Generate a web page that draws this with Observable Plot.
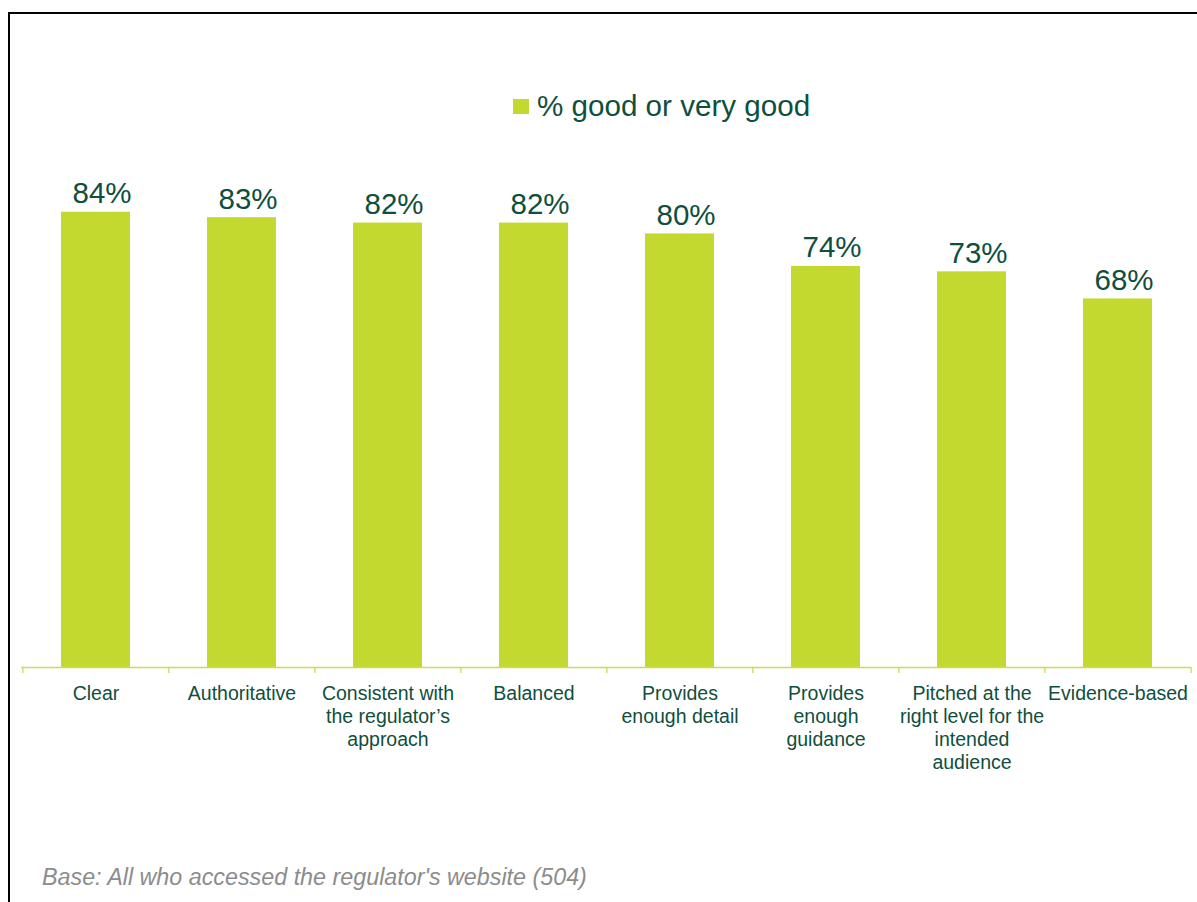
<!DOCTYPE html>
<html>
<head>
<meta charset="utf-8">
<script src="https://cdn.jsdelivr.net/npm/d3@7"></script>
<script src="https://cdn.jsdelivr.net/npm/@observablehq/plot@0.6"></script>
<style>
  html, body { margin: 0; padding: 0; background: #fff; overflow: hidden; }
  #wrap { position: relative; width: 1197px; height: 902px; overflow: hidden; font-family: "Liberation Sans", Arial, sans-serif; }
  #frame { position: absolute; left: 8px; top: 12px; width: 1300px; height: 1000px; border-left: 2px solid #000; border-top: 2px solid #000; }
  #legend { position: absolute; left: 513px; top: 91px; height: 29px; }
  #legend .sw { position: absolute; left: 0; top: 8px; width: 16px; height: 15px; background: #c4d92f; }
  #legend .lt { position: absolute; left: 24px; top: 0; font-size: 29.6px; line-height: 29.6px; color: #0f4f3d; white-space: nowrap; }
  #plot { position: absolute; left: 0; top: 0; }
  #caption { position: absolute; left: 42px; top: 866px; font-size: 23.3px; line-height: 22px; font-style: italic; color: #8c8c8c; white-space: nowrap; }
</style>
</head>
<body>
<div id="wrap">
  <div id="frame"></div>
  <div id="plot"></div>
  <div id="legend"><div class="sw"></div><div class="lt">% good or very good</div></div>
  <div id="caption">Base: All who accessed the regulator's website (504)</div>
</div>
<script>
const categories = ["Clear", "Authoritative", "Consistent with the regulator’s approach", "Balanced", "Provides enough detail", "Provides enough guidance", "Pitched at the right level for the intended audience", "Evidence-based"];
const tickLabels = ["Clear", "Authoritative", "Consistent with\nthe regulator’s\napproach", "Balanced", "Provides\nenough detail", "Provides\nenough\nguidance", "Pitched at the\nright level for the\nintended\naudience", "Evidence-based"];
const values = [84, 83, 82, 82, 80, 74, 73, 68];

const data = categories.map((c, i) => ({cat: c, value: values[i], label: tickLabels[i]}));

const W = 1197, H = 902, ML = 21, MR = 6, MT = 125, MB = 235;
const step = (W - ML - MR) / categories.length;
const barColor = "#c4d92f";
const axisColor = "#c9dc56";
const textColor = "#0f4f3d";

const chart = Plot.plot({
  width: W,
  height: H,
  marginLeft: ML,
  marginRight: MR,
  marginTop: MT,
  marginBottom: MB,
  style: {fontFamily: "'Liberation Sans', Arial, sans-serif", background: "transparent"},
  x: {domain: categories, paddingInner: 0.528, paddingOuter: 0.264, axis: null},
  y: {domain: [0, 100], axis: null},
  marks: [
    Plot.barY(data, {x: "cat", y: "value", fill: barColor}),
    Plot.ruleY([0], {stroke: axisColor, strokeWidth: 1.3}),
    Plot.ruleX(categories, {x: d => d, y1: 0, y2: 0, insetBottom: -6, dx: -step / 2, stroke: axisColor, strokeWidth: 1.3}),
    Plot.ruleX([categories[categories.length - 1]], {x: d => d, y1: 0, y2: 0, insetBottom: -6, dx: step / 2, stroke: axisColor, strokeWidth: 1.3}),
    Plot.text(data, {x: "cat", y: "value", text: d => d.value + "%", lineAnchor: "bottom", dy: -9, dx: 6, fontSize: 29.5, fill: textColor}),
    Plot.text(data, {x: "cat", y: 0, text: "label", lineAnchor: "top", dy: 16, fontSize: 19.5, lineHeight: 1.18, fill: textColor})
  ]
});
document.getElementById("plot").appendChild(chart);
</script>
</body>
</html>
